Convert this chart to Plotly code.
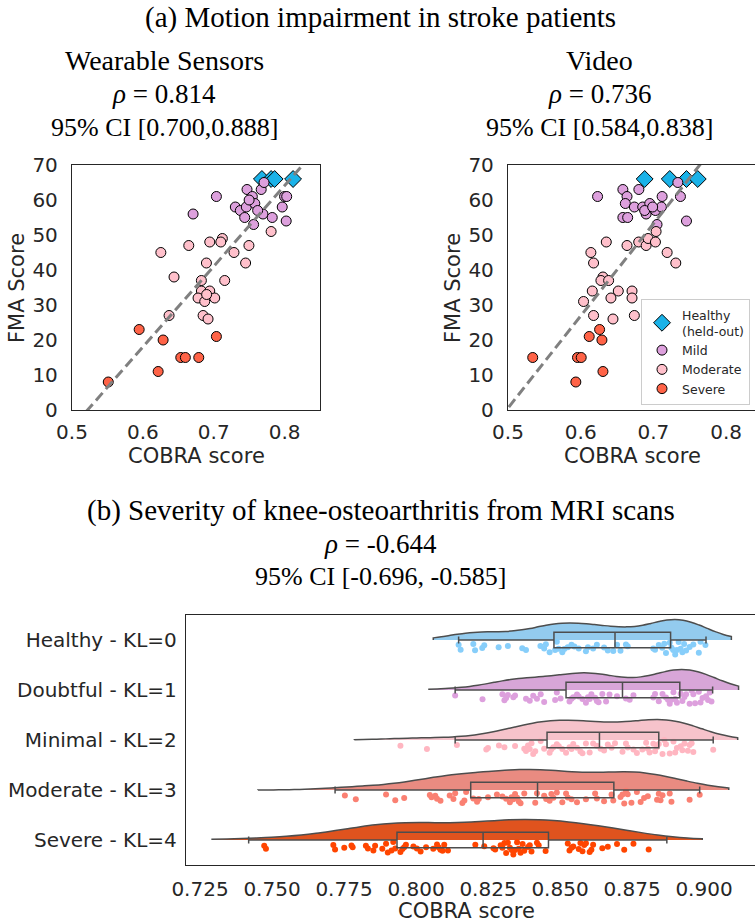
import numpy as np
import plotly.graph_objects as go

W, H = 755, 924

# ---------------- (a) stroke data: COBRA score vs FMA score ----------------
wear_healthy_x = [0.768, 0.781, 0.786, 0.812]
wear_healthy_y = [66, 66, 66, 66]
wear_mild_x = [0.7038, 0.6709, 0.747, 0.7545, 0.767, 0.771, 0.7305, 0.7376, 0.746, 0.758,
               0.7437, 0.7563, 0.7695, 0.7826, 0.7967, 0.800, 0.803, 0.8023, 0.750, 0.762]
wear_mild_y = [61, 56, 63, 61, 63, 65, 58, 57, 58, 59, 55, 53, 56, 55, 58, 61, 61, 54, 60, 57]
wear_moderate_x = [0.781, 0.7497, 0.7286, 0.745, 0.7122, 0.710, 0.6944, 0.6648, 0.6254, 0.6897,
                   0.644, 0.6826, 0.7155, 0.6826, 0.6944, 0.6779, 0.7014, 0.6873, 0.637, 0.685,
                   0.692, 0.690]
wear_moderate_y = [51, 47, 45, 42, 49, 48, 48, 47, 45, 42, 38, 37, 37, 34, 34, 32, 32, 31, 27, 27, 26, 33]
wear_severe_x = [0.5948, 0.6286, 0.7038, 0.6535, 0.660, 0.6789, 0.6216, 0.5512]
wear_severe_y = [23, 20, 21, 15, 15, 15, 11, 8]

video_healthy_x = [0.688, 0.7225, 0.7455, 0.761]
video_healthy_y = [66, 66, 66, 66]
video_mild_x = [0.6232, 0.658, 0.6637, 0.6614, 0.658, 0.6646, 0.6738, 0.680, 0.6853, 0.690,
                0.695, 0.7028, 0.705, 0.712, 0.711, 0.7336, 0.7372, 0.7455, 0.688, 0.699]
video_mild_y = [61, 63, 61, 59, 55, 55, 58, 63, 58, 56, 59, 57, 53, 61, 58, 65, 61, 54, 57, 58]
video_moderate_x = [0.6352, 0.614, 0.6177, 0.6637, 0.6798, 0.690, 0.6927, 0.7028, 0.7037, 0.7189,
                    0.7308, 0.6306, 0.6278, 0.6384, 0.6159, 0.6517, 0.6706, 0.6706, 0.6416, 0.6039,
                    0.6177, 0.6738, 0.6444]
video_moderate_y = [48, 45, 42, 47, 48, 47, 49, 48, 51, 45, 42, 38, 37, 37, 34, 34, 34, 32, 32, 31, 27, 27, 26]
video_severe_x = [0.626, 0.6117, 0.6292, 0.534, 0.5956, 0.6007, 0.6306, 0.5933]
video_severe_y = [23, 21, 20, 15, 15, 15, 11, 8]

# regression lines (FMA = slope * COBRA + intercept)
fit_wearable = [230.5, -120.3]
fit_video = [263.3, -131.1]

# ---------------- (b) knee OA data ----------------
kl_categories = ["Healthy - KL=0", "Doubtful - KL=1", "Minimal - KL=2", "Moderate - KL=3", "Severe - KL=4"]

kl0_scores = [0.8148, 0.8155, 0.8199, 0.8205, 0.8230, 0.8237, 0.8287, 0.8319, 0.8369, 0.8382,
              0.8432, 0.8445, 0.8451, 0.8464, 0.8483, 0.8489, 0.8495, 0.8508, 0.8515, 0.8527,
              0.8540, 0.8550, 0.8565, 0.8590, 0.8597, 0.8615, 0.8628, 0.8653, 0.8666, 0.8685,
              0.8698, 0.8710, 0.8729, 0.8735, 0.8824, 0.8830, 0.8843, 0.8855, 0.8862, 0.8868,
              0.8881, 0.8887, 0.8893, 0.8900, 0.8906, 0.8912, 0.8919, 0.8925, 0.8931, 0.8938,
              0.8950, 0.8963, 0.8982, 0.8988, 0.9005]
kl1_scores = [0.8136, 0.8231, 0.8300, 0.8307, 0.8313, 0.8319, 0.8338, 0.8344, 0.8382, 0.8395,
              0.8407, 0.8420, 0.8433, 0.8445, 0.8483, 0.8489, 0.8502, 0.8533, 0.8540, 0.8546,
              0.8559, 0.8565, 0.8578, 0.8590, 0.8597, 0.8603, 0.8609, 0.8622, 0.8628, 0.8634,
              0.8647, 0.8660, 0.8672, 0.8698, 0.8729, 0.8742, 0.8755, 0.8824, 0.8830, 0.8843,
              0.8856, 0.8868, 0.8875, 0.8881, 0.8887, 0.8894, 0.8900, 0.8906, 0.8919, 0.8925,
              0.8932, 0.8938, 0.8950, 0.8957, 0.8963, 0.8969, 0.8982, 0.8988, 0.8995, 0.9007,
              0.9014, 0.9020, 0.9026]
kl2_scores = [0.7946, 0.8038, 0.8142, 0.8244, 0.8250, 0.8288, 0.8307, 0.8344, 0.8376, 0.8382,
              0.8389, 0.8395, 0.8401, 0.8407, 0.8414, 0.8433, 0.8445, 0.8464, 0.8470, 0.8477,
              0.8489, 0.8496, 0.8508, 0.8521, 0.8533, 0.8540, 0.8546, 0.8559, 0.8571, 0.8578,
              0.8590, 0.8603, 0.8615, 0.8628, 0.8641, 0.8653, 0.8666, 0.8679, 0.8691, 0.8717,
              0.8729, 0.8735, 0.8755, 0.8767, 0.8786, 0.8799, 0.8805, 0.8811, 0.8824, 0.8830,
              0.8837, 0.8843, 0.8856, 0.8862, 0.8868, 0.8881, 0.8894, 0.8900, 0.8906, 0.8919,
              0.8925, 0.8932, 0.8944, 0.8950, 0.8957, 0.8963, 0.9032]
kl3_scores = [0.7753, 0.7791, 0.7896, 0.7928, 0.7959, 0.8048, 0.8054, 0.8067, 0.8073, 0.8085,
              0.8117, 0.8130, 0.8136, 0.8161, 0.8168, 0.8174, 0.8199, 0.8212, 0.8218, 0.8250,
              0.8281, 0.8300, 0.8313, 0.8326, 0.8332, 0.8338, 0.8344, 0.8351, 0.8357, 0.8363,
              0.8376, 0.8414, 0.8420, 0.8445, 0.8452, 0.8464, 0.8470, 0.8477, 0.8489, 0.8508,
              0.8521, 0.8527, 0.8540, 0.8559, 0.8590, 0.8622, 0.8628, 0.8653, 0.8679, 0.8685,
              0.8710, 0.8717, 0.8723, 0.8729, 0.8735, 0.8748, 0.8767, 0.8780, 0.8792, 0.8805,
              0.8837, 0.8843, 0.8849, 0.8856, 0.8881, 0.8887, 0.8950, 0.8985]
kl4_scores = [0.7473, 0.7479, 0.7713, 0.7719, 0.7751, 0.7776, 0.7780, 0.7826, 0.7833, 0.7852,
              0.7858, 0.7883, 0.7896, 0.7902, 0.7915, 0.7921, 0.7928, 0.7946, 0.7953, 0.7959,
              0.7965, 0.7991, 0.8003, 0.8016, 0.8035, 0.8060, 0.8073, 0.8079, 0.8085, 0.8092,
              0.8098, 0.8111, 0.8206, 0.8237, 0.8269, 0.8275, 0.8294, 0.8300, 0.8307, 0.8313,
              0.8319, 0.8326, 0.8332, 0.8338, 0.8344, 0.8351, 0.8357, 0.8363, 0.8370, 0.8376,
              0.8389, 0.8395, 0.8401, 0.8420, 0.8426, 0.8450, 0.8527, 0.8533, 0.8540, 0.8546,
              0.8565, 0.8571, 0.8578, 0.8584, 0.8590, 0.8603, 0.8609, 0.8615, 0.8647, 0.8666,
              0.8698, 0.8723, 0.8755, 0.8808]
kl_scores = [kl0_scores, kl1_scores, kl2_scores, kl3_scores, kl4_scores]

# box-plot statistics as drawn in the picture
box_lowerfence = [0.8148, 0.8136, 0.8136, 0.7719, 0.7419]
box_q1 = [0.8479, 0.8521, 0.8455, 0.8190, 0.7934]
box_median = [0.8691, 0.8717, 0.8637, 0.8422, 0.8233]
box_q3 = [0.8884, 0.8916, 0.8843, 0.8687, 0.8460]
box_upperfence = [0.9007, 0.9030, 0.9032, 0.8985, 0.8871]
# extent of each density curve
violin_span_lo = [0.806, 0.8045, 0.7786, 0.7451, 0.7292]
violin_span_hi = [0.9095, 0.912, 0.9117, 0.9086, 0.8994]

# ---------------- styling ----------------
SANS = "DejaVu Sans"
SERIF = "Liberation Serif"
INK = "#262626"
GRAY = "#4d4d4d"
stroke_colors = {"Healthy": "#1ab2e8", "Mild": "#dda0dd", "Moderate": "#ffc0cb", "Severe": "#ff6347"}
kl_point_colors = ["#87cefa", "#dda0dd", "#ffb6c1", "#fa8072", "#ff4500"]
kl_fill_colors = ["#93cbee", "#d8a6d8", "#f6c3cb", "#e98b81", "#e0531e"]
kde_bandwidth = [0.0085, 0.0085, 0.0095, 0.011, 0.0155]

fig = go.Figure()


def add_scatter_panel(xa, ya, groups, fit, show_legend):
    for name, key, xs, ys, sym, size in groups:
        fig.add_trace(go.Scatter(
            x=xs, y=ys, mode="markers", name=name,
            marker=dict(symbol=sym, size=size, color=stroke_colors[key],
                        line=dict(color="black", width=1)),
            xaxis=xa, yaxis=ya, showlegend=show_legend, legendgroup=key))
    lx = np.array([0.45, 0.9])
    fig.add_trace(go.Scatter(
        x=lx, y=fit[0] * lx + fit[1], mode="lines",
        line=dict(color="#808080", width=3, dash="10px,5px"),
        xaxis=xa, yaxis=ya, showlegend=False, hoverinfo="skip"))


add_scatter_panel("x", "y", [
    ("Healthy", "Healthy", wear_healthy_x, wear_healthy_y, "diamond", 13),
    ("Mild", "Mild", wear_mild_x, wear_mild_y, "circle", 10),
    ("Moderate", "Moderate", wear_moderate_x, wear_moderate_y, "circle", 10),
    ("Severe", "Severe", wear_severe_x, wear_severe_y, "circle", 10),
], fit_wearable, False)

add_scatter_panel("x2", "y2", [
    ("Healthy<br>(held-out)", "Healthy", video_healthy_x, video_healthy_y, "diamond", 13),
    ("Mild", "Mild", video_mild_x, video_mild_y, "circle", 10),
    ("Moderate", "Moderate", video_moderate_x, video_moderate_y, "circle", 10),
    ("Severe", "Severe", video_severe_x, video_severe_y, "circle", 10),
], fit_video, True)

# raincloud: half violins
for i, cat in enumerate(kl_categories):
    vals = kl_scores[i]
    fig.add_trace(go.Violin(
        x=vals, y=[cat] * len(vals), orientation="h", side="positive",
        width=0.82, scalemode="width", points=False, bandwidth=kde_bandwidth[i],
        spanmode="manual", span=[violin_span_lo[i], violin_span_hi[i]],
        fillcolor=kl_fill_colors[i], line=dict(color=GRAY, width=1.5),
        box=dict(visible=False), meanline=dict(visible=False),
        xaxis="x3", yaxis="y3", showlegend=False, hoverinfo="skip"))

# strip points (jittered by plotly below the centre line)
for i, cat in enumerate(kl_categories):
    vals = kl_scores[i]
    fig.add_trace(go.Box(
        x=vals, y=[cat] * len(vals), orientation="h",
        boxpoints="all", jitter=1.0, pointpos=-0.95, width=0.3,
        line=dict(width=0, color="rgba(0,0,0,0)"), fillcolor="rgba(0,0,0,0)",
        whiskerwidth=0,
        marker=dict(color=kl_point_colors[i], size=6, line=dict(width=0)),
        xaxis="x3", yaxis="y3", showlegend=False, hoverinfo="skip"))

# box plots
for i, cat in enumerate(kl_categories):
    fig.add_trace(go.Box(
        y=[cat], q1=[box_q1[i]], median=[box_median[i]], q3=[box_q3[i]],
        lowerfence=[box_lowerfence[i]], upperfence=[box_upperfence[i]],
        orientation="h", width=0.31, whiskerwidth=0.45, boxpoints=False,
        line=dict(color=GRAY, width=1.5), fillcolor="rgba(0,0,0,0)",
        xaxis="x3", yaxis="y3", showlegend=False, hoverinfo="skip"))

axis_common = dict(showline=True, mirror=True, linecolor=INK, linewidth=1.3, automargin=False,
                   showgrid=False, zeroline=False, ticks="outside", tickcolor="rgba(0,0,0,0)",
                   tickfont=dict(family=SANS, size=20, color=INK))

fig.update_layout(
    width=W, height=H, margin=dict(l=0, r=0, t=0, b=0, autoexpand=False),
    paper_bgcolor="white", plot_bgcolor="white",
    boxmode="overlay", violinmode="overlay",
    xaxis=dict(domain=[72 / W, 320 / W], range=[0.5, 0.85], tickvals=[0.5, 0.6, 0.7, 0.8],
               tickformat=".1f", anchor="y", ticklen=4, **axis_common),
    yaxis=dict(domain=[1 - 410 / H, 1 - 165 / H], range=[0, 70], tickvals=list(range(0, 71, 10)),
               anchor="x", ticklen=9, **axis_common),
    xaxis2=dict(domain=[508 / W, 1.0], range=[0.5, 0.5 + 247 / 727], tickvals=[0.5, 0.6, 0.7, 0.8],
                tickformat=".1f", anchor="y2", ticklen=4, **axis_common),
    yaxis2=dict(domain=[1 - 410 / H, 1 - 165 / H], range=[0, 70], tickvals=list(range(0, 71, 10)),
                anchor="x2", ticklen=9, **axis_common),
    xaxis3=dict(domain=[186 / W, 1.0], range=[0.72014, 0.91771],
                tickvals=[0.725, 0.75, 0.775, 0.8, 0.825, 0.85, 0.875, 0.9],
                tickformat=".3f", anchor="y3", ticklen=6, **axis_common),
    yaxis3=dict(domain=[1 - 865 / H, 1 - 615 / H], type="category",
                categoryorder="array", categoryarray=kl_categories[::-1],
                range=[-0.5, 4.5], anchor="x3", ticklen=4, **axis_common),
    legend=dict(x=750 / W, y=1 - 405 / H, xanchor="right", yanchor="bottom",
                bgcolor="rgba(255,255,255,0.9)", bordercolor="#cccccc", borderwidth=1,
                font=dict(family=SANS, size=12.5, color=INK), tracegroupgap=0),
    showlegend=True,
)


def text(x, y, s, size=27, family=SERIF, angle=0):
    fig.add_annotation(x=x / W, y=1 - y / H, xref="paper", yref="paper", text=s,
                       showarrow=False, xanchor="center", yanchor="middle", textangle=angle,
                       font=dict(family=family, size=size, color="black" if family == SERIF else INK))


text(381, 17, "(a) Motion impairment in stroke patients", size=29)
text(164, 60, "Wearable Sensors", size=28)
text(164, 94, "<i>ρ</i> = 0.814", size=27)
text(164, 127, "95% CI [0.700,0.888]", size=26)
text(599, 60, "Video", size=28)
text(599, 94, "<i>ρ</i> = 0.736", size=27)
text(599, 127, "95% CI [0.584,0.838]", size=26)
text(381, 510, "(b) Severity of knee-osteoarthritis from MRI scans", size=29)
text(381, 544, "<i>ρ</i> = -0.644", size=27)
text(381, 576, "95% CI [-0.696, -0.585]", size=26)

text(196, 456, "COBRA score", size=21, family=SANS)
text(632, 456, "COBRA score", size=21, family=SANS)
text(17, 288, "FMA Score", size=21, family=SANS, angle=-90)
text(453, 288, "FMA Score", size=21, family=SANS, angle=-90)
text(466, 911, "COBRA score", size=21, family=SANS)

fig.write_html("out.html")
